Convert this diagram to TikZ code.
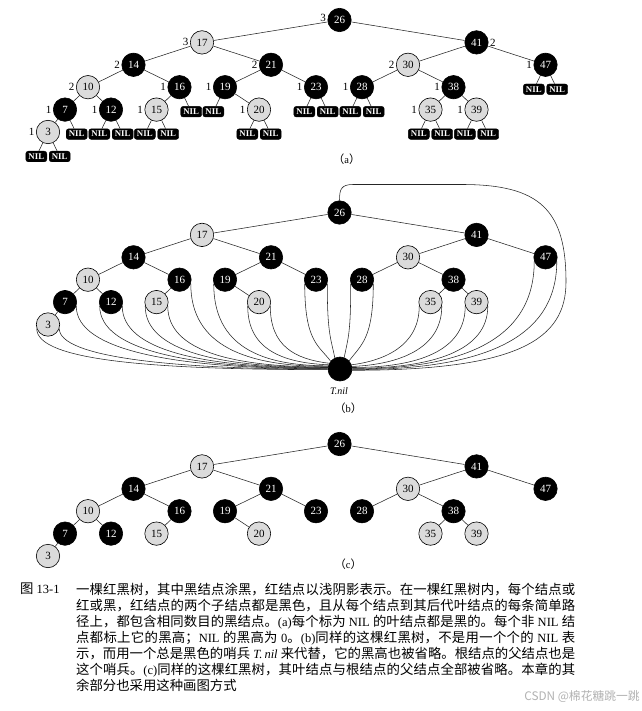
\documentclass[tikz,border=0pt]{standalone}
\usepackage{fontspec}
\setmainfont{Liberation Serif}
\newfontfamily\cjk[Scale=1.07]{Noto Sans CJK SC}
\usetikzlibrary{calc,positioning}
\XeTeXlinebreaklocale "zh"
\XeTeXlinebreakskip=0pt plus 1pt minus 0.3pt
\tikzset{
  rdn/.style={circle, draw=black, line width=0.6pt, fill=black!14, minimum size=23.4pt, inner sep=0pt, font=\fontsize{11}{12}\selectfont},
  bkn/.style={rdn, fill=black, text=white},
  nilbox/.style={rectangle, rounded corners=2.5pt, fill=black, draw=black, text=white, minimum width=21pt, minimum height=10.6pt, inner sep=0pt, font=\fontsize{8.8}{9}\selectfont\bfseries},
  edge/.style={draw=black!85, line width=0.55pt},
  bh/.style={inner sep=1.5pt, font=\fontsize{11}{12}\selectfont},
  partlab/.style={font=\fontsize{10.5}{12}\selectfont},
}
\newcommand\rbtree[2]{%
\begin{scope}[shift={(0,#2)}]
\node[bkn] (#126) at (339.5,0) {26};
\node[rdn] (#117) at (202,22.4) {17};
\node[bkn] (#141) at (476.5,22.4) {41};
\node[bkn] (#114) at (133.5,44.8) {14};
\node[bkn] (#121) at (271,44.8) {21};
\node[rdn] (#130) at (408,44.8) {30};
\node[bkn] (#147) at (545.5,44.8) {47};
\node[rdn] (#110) at (88,67.2) {10};
\node[bkn] (#116) at (179.5,67.2) {16};
\node[bkn] (#119) at (225,67.2) {19};
\node[bkn] (#123) at (316,67.2) {23};
\node[bkn] (#128) at (362,67.2) {28};
\node[bkn] (#138) at (453.5,67.2) {38};
\node[bkn] (#17) at (65,89.6) {7};
\node[bkn] (#112) at (111,89.6) {12};
\node[rdn] (#115) at (156.5,89.6) {15};
\node[rdn] (#120) at (259,89.6) {20};
\node[rdn] (#135) at (430.5,89.6) {35};
\node[rdn] (#139) at (476.5,89.6) {39};
\node[rdn] (#13) at (48,112) {3};
\foreach \u/\v in {26/17,26/41,17/14,17/21,14/10,14/16,10/7,10/12,7/3,16/15,21/19,21/23,19/20,41/30,41/47,30/28,30/38,38/35,38/39}
  \draw[edge] (#1\u) -- (#1\v);
\end{scope}}
\newcommand\nilc[5]{\draw[edge] (b#1.#2) .. controls +(0,#3) and +(#4) .. (tnil.#5);}
\begin{document}
\begin{tikzpicture}[x=1pt,y=-1pt]
\useasboundingbox (0,0) rectangle (641,711);
\fill[white] (0,0) rectangle (641,711);

% ---------- (a) ----------
\rbtree{a}{20}
\foreach \p/\s [count=\i] in {3/-1,3/1,7/1,12/-1,12/1,15/-1,15/1,16/1,19/-1,20/-1,20/1,23/-1,23/1,28/-1,28/1,35/-1,35/1,39/-1,39/1,47/-1,47/1}{
  \node[nilbox] (nil\i) at ($(a\p)+(\s*11.7,24.5)$) {NIL};
  \draw[edge] (a\p) -- (nil\i);
}
\node[bh, left=0pt of a26, yshift=2pt] (h26) {3};
\foreach \n/\h in {17/3,14/2,21/2,30/2,47/1,10/2,16/1,19/1,23/1,28/1,38/1,7/1,12/1,15/1,20/1,35/1,39/1,3/1}
  \node[bh, left=0pt of a\n] (h\n) {\h};
\node[bh, right=0pt of a41] (h41) {2};
\node[partlab] (la) at (346.7,159) {{\cjk （}a{\cjk ）}};

% ---------- (b) ----------
\rbtree{b}{212.5}
\node[bkn, minimum size=24pt] (tnil) at (340,369) {};
\node[font=\fontsize{10}{12}\selectfont\itshape] (tnillab) at (339,391.5) {T.nil};
\nilc{3}{200}{32}{-175,0}{183}
\nilc{3}{340}{28}{-160,0}{181}
\nilc{7}{340}{45}{-150,0}{179}
\nilc{12}{200}{45}{-135,0}{177}
\nilc{12}{340}{45}{-122,0}{175}
\nilc{15}{200}{45}{-108,0}{173}
\nilc{15}{340}{45}{-95,0}{171}
\nilc{16}{340}{62}{-82,0}{168}
\nilc{19}{200}{62}{-68,0}{165}
\nilc{20}{200}{42}{-48,-2}{160}
\nilc{20}{340}{40}{-34,-4}{152}
\nilc{23}{200}{58}{-12,-16}{140}
\nilc{23}{340}{50}{-4,-20}{115}
\nilc{28}{200}{50}{4,-20}{70}
\nilc{28}{340}{55}{12,-16}{42}
\nilc{35}{200}{40}{32,-4}{20}
\nilc{35}{340}{42}{48,-2}{12}
\nilc{39}{200}{45}{65,0}{7}
\nilc{39}{340}{45}{80,0}{3}
\nilc{47}{200}{80}{108,0}{0}
\nilc{47}{340}{82}{122,0}{357}
\draw[edge] (b26.north) .. controls +(0,-11) and +(-12,0) .. (353,184.5) -- (462,184.5)
  .. controls +(78,0) and +(0,-72) .. (566,282) .. controls +(0,58) and +(165,0) .. (tnil.354);
\node[partlab] (lb) at (348.3,408) {{\cjk （}b{\cjk ）}};

% ---------- (c) ----------
\rbtree{c}{444}
\node[partlab] (lc) at (348.3,564) {{\cjk （}c{\cjk ）}};

% ---------- caption ----------
\node[anchor=north west, inner sep=0pt, font=\fontsize{12.5}{16}\selectfont] (fig) at (20,583) {{\cjk 图} 13-1};
\node[anchor=north west, inner sep=0pt, text width=499pt, align=justify, font=\fontsize{12.5}{16}\selectfont] (cap) at (76,583) {\noindent
{\cjk 一棵红黑树，其中黑结点涂黑，红结点以浅阴影表示。在一棵红黑树内，每个结点或}\linebreak
{\cjk 红或黑，红结点的两个子结点都是黑色，且从每个结点到其后代叶结点的每条简单路}\linebreak
{\cjk 径上，都包含相同数目的黑结点。}(a){\cjk 每个标为} NIL {\cjk 的叶结点都是黑的。每个非} NIL {\cjk 结}\linebreak
{\cjk 点都标上它的黑高；}NIL {\cjk 的黑高为} 0{\cjk 。}(b){\cjk 同样的这棵红黑树，不是用一个个的} NIL {\cjk 表}\linebreak
{\cjk 示，而用一个总是黑色的哨兵} \textit{T.\,nil} {\cjk 来代替，它的黑高也被省略。根结点的父结点也是}\linebreak
{\cjk 这个哨兵。}(c){\cjk 同样的这棵红黑树，其叶结点与根结点的父结点全部被省略。本章的其}\linebreak
{\cjk 余部分也采用这种画图方式}};
\node[text=black!30, font=\fontsize{11}{12}\selectfont] (wm) at (582,697) {\cjk CSDN @棉花糖跳一跳};
\end{tikzpicture}
\end{document}
